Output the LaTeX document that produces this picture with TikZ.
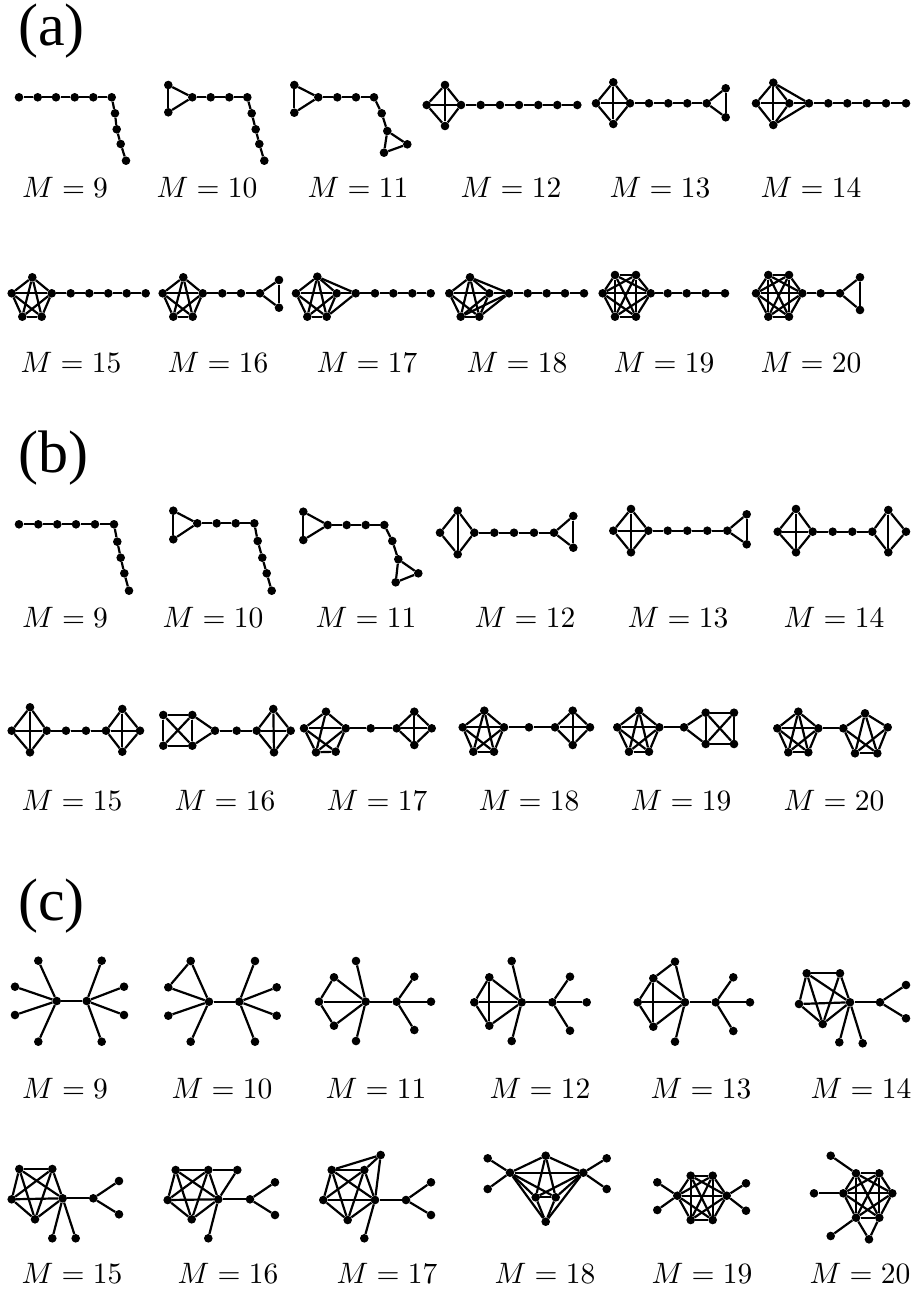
\documentclass[tikz,border=0pt]{standalone}
\usepackage{graphicx}
\usepackage[no-math]{fontspec}
\setmainfont{Liberation Serif}

% vertices: prefix, list of id/x/y
\newcommand\gverts[2]{\foreach \p/\x/\y in {#2} {\node[vert] (#1-\p) at (\x,\y) {};}}
% edges: prefix, list of u/v
\newcommand\gedges[2]{\foreach \u/\v in {#2} {\draw[edge] (#1-\u) -- (#1-\v);}}
% complete graph on the listed vertices
\newcommand\gclique[2]{\foreach \u [count=\i] in {#2} {\foreach \v [count=\j] in {#2} {\ifnum\i<\j\relax\draw[edge] (#1-\u) -- (#1-\v);\fi}}}
% enlarged edge-count label
\newcommand\mtext[1]{\scalebox{2.95}{$M=#1$}}

\begin{document}
\begin{tikzpicture}[x=1pt,y=-1pt,
  vert/.style={circle,fill=black,inner sep=0pt,minimum size=8.6pt},
  edge/.style={line width=2.2pt,black},
  mlabel/.style={inner sep=0pt},
  panel/.style={inner sep=0pt,font=\rmfamily\fontsize{60}{62}\selectfont}]
\useasboundingbox (0,0) rectangle (913,1292);

% ---------- panel labels ----------
\node[panel,anchor=west] (pa) at (18,31) {(a)};
\node[panel,anchor=west] (pb) at (18,458) {(b)};
\node[panel,anchor=west] (pc) at (18,906) {(c)};

% ================= (a) first row =================
\gverts{a9}{1/19/97.3,2/37.7/97.3,3/56/97.3,4/74.7/97.3,5/93.3/97.3,6/111.7/97.3,7/115/113.3,8/116.7/129.3,9/120.7/144,10/126/160.7}
\gedges{a9}{1/2,2/3,3/4,4/5,5/6,6/7,7/8,8/9,9/10}

\gverts{a10}{1/168.3/85,2/168.3/112.3,3/192.3/97.3,4/210.7/97.3,5/229.3/97.3,6/247.3/97.3,7/251.7/113.3,8/255.7/129.3,9/259.3/144,10/264.3/160.7}
\gedges{a10}{1/2,1/3,2/3,3/4,4/5,5/6,6/7,7/8,8/9,9/10}

\gverts{a11}{1/294.3/85,2/294.3/112.7,3/318.3/97.3,4/337.3/97.3,5/356/97.3,6/374/97.3,7/381.7/113.3,8/387.3/131,9/407.3/144.3,10/384/152.7}
\gedges{a11}{1/2,1/3,2/3,3/4,4/5,5/6,6/7,7/8,8/9,8/10,9/10}

\gverts{a12}{1/426.7/105,2/445/85,3/445/126,4/461/105,5/480.7/105,6/500/105,7/519/105,8/538.3/105,9/557.3/105,10/577.3/105}
\gclique{a12}{1,2,3,4}
\gedges{a12}{4/5,5/6,6/7,7/8,8/9,9/10}

\gverts{a13}{1/596/103.3,2/613.3/82.3,3/613.3/124,4/630/103.3,5/649/103.3,6/668.3/103.3,7/687.3/103.3,8/706.7/103.3,9/725.7/88.3,10/725.7/117.3}
\gclique{a13}{1,2,3,4}
\gedges{a13}{4/5,5/6,6/7,7/8,8/9,8/10,9/10}

\gverts{a14}{1/756/103.3,2/773.3/82.7,3/773.3/125,4/789.3/103.3,5/809/103.3,6/828.3/103.3,7/847.3/103.3,8/866.7/103.3,9/886/103.3,10/906/103.3}
\gclique{a14}{1,2,3,4}
\gedges{a14}{2/5,3/5,4/5,5/6,6/7,7/8,8/9,9/10}

% ================= (a) second row =================
\gverts{a15}{1/32.3/277.3,2/11.7/293.3,3/51.7/293.3,4/22.3/316.7,5/41.7/316.7,6/70.7/293.3,7/89.3/293.3,8/108.3/293.3,9/126.7/293.3,10/145.7/293.3}
\gclique{a15}{1,2,3,4,5}
\gedges{a15}{3/6,6/7,7/8,8/9,9/10}

\gverts{a16}{1/183.3/277.3,2/162.7/293.3,3/202.7/293.3,4/173.3/316.7,5/192.7/316.7,6/222.3/293.3,7/241/293.3,8/260/293.3,9/279/280,10/279/307.7}
\gclique{a16}{1,2,3,4,5}
\gedges{a16}{3/6,6/7,7/8,8/9,8/10,9/10}

\gverts{a17}{1/317.3/276.7,2/296/293.3,3/336.7/293.3,4/307.3/316.7,5/326.7/316.7,6/355.7/293.3,7/375/293.3,8/393.3/293.3,9/412.3/293.3,10/430.7/293.3}
\gclique{a17}{1,2,3,4,5}
\gedges{a17}{1/6,3/6,5/6,6/7,7/8,8/9,9/10}

\gverts{a18}{1/449.3/293.3,2/470/277.3,3/489.3/293.3,4/460.7/316.7,5/479.3/316.7,6/509/293.3,7/527.7/293.3,8/546.7/293.3,9/565/293.3,10/584/293.3}
\gclique{a18}{1,2,3,4,5}
\gedges{a18}{2/6,3/6,4/6,5/6,6/7,7/8,8/9,9/10}

\gverts{a19}{1/615/275,2/636/275,3/602.7/293.3,4/650.7/293.3,5/615/316.7,6/636/316.7,7/667.7/293.3,8/686.7/293.3,9/705.7/293.3,10/725/293.3}
\gclique{a19}{1,2,3,4,5,6}
\gedges{a19}{4/7,7/8,8/9,9/10}

\gverts{a20}{1/768.3/275,2/789/275,3/756/293.3,4/802.3/293.3,5/768.3/316.7,6/789/316.7,7/820.7/293.3,8/840/293.3,9/860/277.3,10/860/310}
\gclique{a20}{1,2,3,4,5,6}
\gedges{a20}{4/7,7/8,8/9,8/10,9/10}

% ================= (b) first row =================
\gverts{b9}{1/19/524.3,2/38.3/524.3,3/57.3/524.3,4/76/524.3,5/95/524.3,6/114/524.3,7/117.3/541.7,8/120.7/557.7,9/124.3/573.3,10/129/590.7}
\gedges{b9}{1/2,2/3,3/4,4/5,5/6,6/7,7/8,8/9,9/10}

\gverts{b10}{1/173.3/510.7,2/173.3/539.3,3/197.3/523.3,4/216.7/523.3,5/235.7/523.3,6/254.3/523.3,7/257.7/541,8/262.3/557.7,9/266.7/573.3,10/271.7/590.7}
\gedges{b10}{1/2,1/3,2/3,3/4,4/5,5/6,6/7,7/8,8/9,9/10}

\gverts{b11}{1/303.3/511.7,2/303.3/540,3/327.7/525,4/346.7/525,5/365.7/525,6/384.3/525,7/392.3/541,8/398.3/559.3,9/418.3/573.3,10/395.7/582.3}
\gedges{b11}{1/2,1/3,2/3,3/4,4/5,5/6,6/7,7/8,8/9,8/10,9/10}

\gverts{b12}{1/440/532.7,2/457.7/510.7,3/457.7/554.3,4/474.3/532.7,5/494.3/532.7,6/514/532.7,7/534/532.7,8/554/532.7,9/573.3/516,10/573.3/547.7}
\gedges{b12}{1/2,1/3,2/3,2/4,3/4,4/5,5/6,6/7,7/8,8/9,8/10,9/10}

\gverts{b13}{1/613.3/530.7,2/631/509,3/631/552.3,4/648.3/530.7,5/667.7/530.7,6/687.3/530.7,7/707.3/530.7,8/727.3/530.7,9/746.7/514.3,10/746.7/544.3}
\gclique{b13}{1,2,3,4}
\gedges{b13}{4/5,5/6,6/7,7/8,8/9,8/10,9/10}

\gverts{b14}{1/777.7/531.7,2/796/509,3/796/552.3,4/812.7/531.7,5/832.7/531.7,6/852.3/531.7,7/872.3/531.7,8/888.3/510,9/888.3/552.3,10/906/531.7}
\gclique{b14}{1,2,3,4}
\gedges{b14}{4/5,5/6,6/7,7/8,7/9,8/9,8/10,9/10}

% ================= (b) second row =================
\gverts{b15}{1/11.7/730.7,2/30/707.3,3/30/752.3,4/46.7/730.7,5/66/730.7,6/86/730.7,7/106/730.7,8/122.3/709,9/122.3/751.7,10/140/730.7}
\gclique{b15}{1,2,3,4}
\gedges{b15}{4/5,5/6,6/7}
\gclique{b15}{7,8,9,10}

\gverts{b16}{1/163.3/715,2/192.3/715,3/163.3/745.7,4/192.3/745.7,5/215/730.7,6/236.7/730.7,7/256.7/730.7,8/273.3/709,9/274/752.3,10/290.7/730.7}
\gclique{b16}{1,2,3,4}
\gedges{b16}{2/5,4/5,5/6,6/7}
\gclique{b16}{7,8,9,10}

\gverts{b17}{1/326/711.7,2/304/728.3,3/345.7/728.3,4/316/752.3,5/335.7/751.7,6/370.7/728.3,7/396.7/728.3,8/414.3/711.7,9/414.3/745,10/431.7/728.3}
\gedges{b17}{1/2,1/3,1/4,2/3,2/4,2/5,3/4,3/5,4/5,3/6,6/7}
\gclique{b17}{7,8,9,10}

\gverts{b18}{1/484.3/710.7,2/462.7/727.3,3/504/727.3,4/473.3/751.7,5/494/751.7,6/529/727.3,7/555/727.3,8/572.7/710.7,9/572.7/745,10/590/727.3}
\gclique{b18}{1,2,3,4,5}
\gedges{b18}{3/6,6/7}
\gclique{b18}{7,8,9,10}

\gverts{b19}{1/639/710.7,2/617.3/727.3,3/659.3/727.3,4/629/751.7,5/649/751.7,6/684/727.3,7/705.7/712.7,8/734/712.7,9/705.7/744,10/734/744}
\gclique{b19}{1,2,3,4,5}
\gedges{b19}{3/6,6/7,6/9}
\gclique{b19}{7,8,9,10}

\gverts{b20}{1/798.3/711.7,2/777.3/728.3,3/818.3/728.3,4/788.3/752.3,5/808.3/752.3,6/843.3/728.3,7/865/713.3,8/887.7/727.3,9/855/753.3,10/877.3/753.3}
\gclique{b20}{1,2,3,4,5}
\gedges{b20}{3/6,6/7,6/9,6/10,7/8,7/9,7/10,8/9,8/10,9/10}

% ================= (c) first row =================
\gverts{c9}{1/56.7/1001,2/86.7/1001,3/38.3/960.7,4/15/986.7,5/15/1015,6/38.3/1041.7,7/101.7/960.7,8/124/986.7,9/124/1015,10/101.7/1041.7}
\gedges{c9}{1/2,1/3,1/4,1/5,1/6,2/7,2/8,2/9,2/10}

\gverts{c10}{1/209/1001.7,2/239.3/1001.7,3/190.7/961,4/168.3/987.3,5/168.3/1015.7,6/190.7/1041.7,7/255/961,8/276.7/987.3,9/276.7/1015.7,10/255/1041.7}
\gedges{c10}{1/2,1/3,1/4,1/5,1/6,3/4,2/7,2/8,2/9,2/10}

\gverts{c11}{1/365.7/1001.7,2/396.7/1001.7,3/356/961,4/334/977.3,5/319/1001.7,6/334/1025.7,7/356/1041,8/414.3/976.7,9/431/1001.7,10/414.3/1030}
\gedges{c11}{1/2,1/3,1/4,1/5,1/6,1/7,4/5,5/6,2/8,2/9,2/10}

\gverts{c12}{1/521.7/1002.3,2/552.3/1002.3,3/511.7/961,4/489.3/977.3,5/474.3/1002.3,6/489.3/1025.7,7/511.7/1041,8/570/976.7,9/586.7/1002.3,10/570/1030.7}
\gedges{c12}{1/2,1/3,1/4,1/5,1/6,1/7,4/5,5/6,4/6,2/8,2/9,2/10}

\gverts{c13}{1/685/1002.3,2/715.7/1002.3,3/675/961.7,4/653.3/978.3,5/637.7/1002.3,6/653.3/1026.7,7/675/1041.7,8/733.3/977.3,9/750/1002.3,10/733.3/1031}
\gedges{c13}{1/2,1/3,1/4,1/5,1/6,1/7,3/4,4/5,5/6,4/6,2/8,2/9,2/10}

\gverts{c14}{1/850/1002.3,2/880/1002.3,3/806.7/973.3,4/840/973.3,5/799/1004,6/822.7/1024,7/839.3/1042.3,8/862.7/1043.3,9/906/985,10/906/1018.3}
\gedges{c14}{3/4,3/5,3/6,3/1,4/6,4/1,5/1,5/6,6/1,1/7,1/8,1/2,2/9,2/10}

% ================= (c) second row =================
\gverts{c15}{1/62.7/1198.3,2/93.3/1198.3,3/19.3/1169,4/52.3/1169,5/11.7/1199.3,6/35/1219.3,7/52.3/1238.3,8/75.7/1238.3,9/119/1181,10/119/1214.3}
\gclique{c15}{1,3,4,5,6}
\gedges{c15}{1/7,1/8,1/2,2/9,2/10}

\gverts{c16}{1/218.3/1199.3,2/250/1199.3,3/175.7/1170,4/208.3/1170,5/167.7/1200,6/191.7/1219.3,7/237.3/1170,8/208.3/1238.3,9/275/1182.3,10/275/1215}
\gclique{c16}{1,3,4,5,6}
\gedges{c16}{4/7,1/7,1/8,1/2,2/9,2/10}

\gverts{c17}{1/375/1200,2/406/1200,3/331.7/1170,4/364.3/1170,5/323.3/1200,6/347.7/1220,7/380.7/1155,8/364.3/1238.3,9/431/1182.3,10/431/1215}
\gclique{c17}{1,3,4,5,6}
\gedges{c17}{3/7,4/7,1/7,1/8,1/2,2/9,2/10}

\gverts{c18}{1/510/1172.7,2/583.3/1172.7,3/545.7/1155.7,4/535.7/1197.3,5/555.7/1197.3,6/545.7/1221.7,7/487.7/1158.3,8/487.7/1189,9/606.7/1158.3,10/606.7/1189}
\gedges{c18}{1/2,1/3,1/4,1/5,1/6,2/3,2/4,2/5,2/6,3/4,3/5,4/5,4/6,5/6,1/7,1/8,2/9,2/10}

\gverts{c19}{1/690.7/1175.7,2/712.7/1175.7,3/677.3/1195.7,4/726.7/1195.7,5/690.7/1220,6/712.7/1220,7/657.3/1182.3,8/657.3/1210,9/746/1183.3,10/746/1210.7}
\gclique{c19}{1,2,3,4,5,6}
\gedges{c19}{3/7,3/8,4/9,4/10}

\gverts{c20}{1/856/1173.3,2/879.3/1173.3,3/843.3/1193.3,4/892.3/1193.3,5/856/1217.7,6/879.3/1217.7,7/830.7/1155.7,8/814/1193.3,9/830.7/1236,10/869/1239.3}
\gclique{c20}{1,2,3,4,5,6}
\gedges{c20}{1/7,3/8,5/9,5/10,6/10}

% ---------- edge-count labels ----------
\foreach \m/\x/\y in {9/65/187,10/207/187,11/358/187,12/511/187,13/660/187,14/811/187,
                      15/71/362,16/218/362,17/367/362,18/517/362,19/664/362,20/811/362}
  {\node[mlabel] (la\m) at (\x,\y) {\mtext{\m}};}
\foreach \m/\x/\y in {9/65/617,10/213/617,11/366/617,12/525/617,13/678/617,14/834/617,
                      15/72/800,16/225/800,17/377/800,18/529/800,19/681/800,20/834/800}
  {\node[mlabel] (lb\m) at (\x,\y) {\mtext{\m}};}
\foreach \m/\x/\y in {9/65/1088,10/222/1088,11/376/1088,12/540/1088,13/701/1088,14/861/1088,
                      15/72/1273,16/228/1273,17/387/1273,18/545/1273,19/702/1273,20/860/1273}
  {\node[mlabel] (lc\m) at (\x,\y) {\mtext{\m}};}
\end{tikzpicture}
\end{document}
